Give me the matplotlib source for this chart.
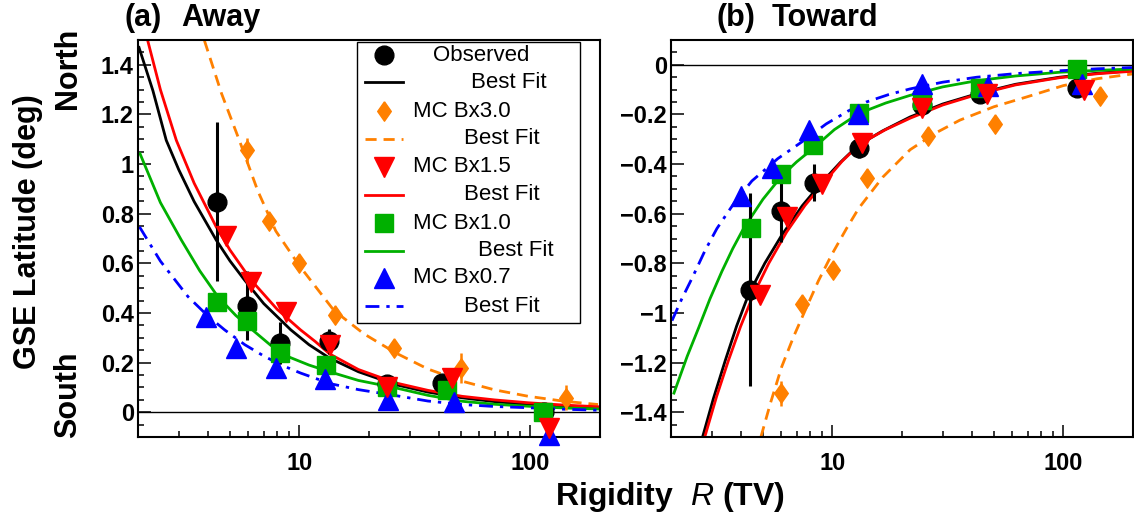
import numpy as np
import matplotlib.pyplot as plt
from matplotlib.ticker import FixedLocator, LogLocator, NullFormatter, FuncFormatter, MultipleLocator
from matplotlib.patches import Rectangle

plt.rcParams['font.family'] = ['Liberation Sans', 'DejaVu Sans']
plt.rcParams['mathtext.fontset'] = 'custom'
plt.rcParams['mathtext.it'] = 'Liberation Sans:italic'
plt.rcParams['mathtext.rm'] = 'Liberation Sans'

# ---- (a) Away ----
R_obs_a = [4.40, 5.93, 8.2, 13.4, 24.0, 41.5, 114]
lat_obs_a = [0.848, 0.429, 0.279, 0.285, 0.115, 0.118, 0.0]
err_obs_a = [0.32, 0.14, 0.085, 0.05, 0.02, 0.02, 0.02]

R_b30_a = [5.95, 7.37, 10.0, 14.2, 25.6, 50.2, 142.6]
lat_b30_a = [1.055, 0.771, 0.603, 0.393, 0.257, 0.178, 0.058]
err_b30_a = [0.05, 0.02, 0.02, 0.02, 0.02, 0.06, 0.05]

R_b15_a = [4.80, 6.19, 8.76, 13.6, 24.0, 45.8, 119.7]
lat_b15_a = [0.71, 0.526, 0.402, 0.27, 0.10, 0.138, -0.065]

R_b10_a = [4.40, 5.93, 8.2, 13.0, 24.0, 43.6, 113.8]
lat_b10_a = [0.446, 0.366, 0.239, 0.192, 0.10, 0.091, 0.0]

R_b07_a = [3.94, 5.30, 7.94, 12.9, 24.2, 46.6, 119.7]
lat_b07_a = [0.383, 0.259, 0.178, 0.134, 0.051, 0.04, -0.093]

# best fit curves
fitR_obs_a = [2.02, 2.32, 2.65, 3.0, 3.5, 4.36, 5.0, 5.78, 7.0, 9.17, 11, 13.5, 18, 26.1, 36, 50.6, 70, 98, 140, 196]
fit_obs_a = [1.47, 1.296, 1.096, 0.978, 0.849, 0.694, 0.61, 0.533, 0.438, 0.332, 0.272, 0.218, 0.163, 0.111,
             0.081, 0.058, 0.0426, 0.031, 0.0235, 0.018]
fitR_b30_a = [3.88, 4.6, 5.49, 6.6, 7.9, 10.0, 14.1, 19, 26.1, 36, 50.6, 70, 98, 140, 196]
fit_b30_a = [1.497, 1.284, 1.096, 0.892, 0.73, 0.59, 0.41, 0.316, 0.239, 0.174, 0.125, 0.09, 0.064, 0.044, 0.031]
fitR_b15_a = [2.2, 2.5, 2.93, 3.5, 4.36, 5.0, 6.17, 8.0, 10.1, 11.7, 13.5, 18, 26.1, 36, 50.6, 70, 98, 140, 196]
fit_b15_a = [1.50, 1.30, 1.096, 0.923, 0.747, 0.654, 0.533, 0.415, 0.332, 0.285, 0.235, 0.172, 0.118, 0.088,
             0.064, 0.0495, 0.038, 0.0287, 0.022]
fitR_b10_a = [2.04, 2.5, 3.08, 3.7, 4.43, 5.3, 6.38, 7.5, 8.87, 11, 13.5, 18, 26.1, 36, 50.6, 70, 98, 140, 196]
fit_b10_a = [1.042, 0.845, 0.694, 0.57, 0.466, 0.39, 0.325, 0.27, 0.225, 0.19, 0.163, 0.128, 0.098, 0.068,
             0.044, 0.032, 0.024, 0.017, 0.013]
fitR_b07_a = [2.03, 2.5, 3.29, 4.0, 4.74, 5.8, 7.05, 8.5, 10.1, 13.6, 18, 26.1, 36, 50.6, 70, 98, 140, 196]
fit_b07_a = [0.747, 0.609, 0.466, 0.389, 0.332, 0.272, 0.225, 0.187, 0.158, 0.115, 0.091, 0.067, 0.045, 0.031,
             0.023, 0.018, 0.012, 0.008]

# ---- (b) Toward ----
R_obs_t = [4.39, 5.97, 8.31, 12.98, 24.4, 43.4, 115]
lat_obs_t = [-0.906, -0.591, -0.475, -0.335, -0.16, -0.117, -0.093]
err_obs_t = [0.39, 0.125, 0.075, 0.04, 0.02, 0.02, 0.02]

R_b30_t = [5.97, 7.41, 10.1, 14.1, 26.0, 50.4, 143.8]
lat_b30_t = [-1.323, -0.965, -0.826, -0.455, -0.286, -0.239, -0.127]
err_b30_t = [0.05, 0.03, 0.02, 0.02, 0.02, 0.02, 0.02]

R_b15_t = [4.86, 6.38, 9.03, 13.4, 24.4, 46.9, 123.3]
lat_b15_t = [-0.926, -0.614, -0.481, -0.316, -0.176, -0.117, -0.103]

R_b10_t = [4.42, 5.97, 8.26, 12.98, 24.4, 43.4, 115]
lat_b10_t = [-0.658, -0.438, -0.322, -0.196, -0.143, -0.093, -0.017]

R_b07_t = [4.01, 5.50, 7.91, 12.85, 24.4, 47.2, 120]
lat_b07_t = [-0.528, -0.415, -0.263, -0.199, -0.077, -0.084, -0.077]

fitR_obs_t = [2.74, 3.05, 3.44, 3.85, 4.33, 5.1, 6.03, 7.4, 8.97, 10.8, 12.9, 16.5, 21.7, 30, 42.1, 62, 96, 140, 198]
fit_obs_t = [-1.5, -1.346, -1.19, -1.052, -0.926, -0.799, -0.687, -0.568, -0.475, -0.394, -0.325, -0.266,
             -0.210, -0.158, -0.117, -0.0785, -0.050, -0.034, -0.024]
fitR_b30_t = [4.9, 5.4, 6.03, 6.8, 7.6, 8.7, 9.9, 11.5, 13.0, 16.5, 21.7, 28, 35.6, 50, 69, 100, 140, 198]
fit_b30_t = [-1.5, -1.361, -1.217, -1.094, -0.992, -0.87, -0.767, -0.660, -0.578, -0.453, -0.342, -0.2745,
             -0.223, -0.169, -0.130, -0.0836, -0.056, -0.037]
fitR_b15_t = [2.8, 3.15, 3.55, 4.0, 4.55, 5.3, 6.33, 7.6, 9.27, 11, 13.2, 17, 21.7, 30, 42.1, 62, 96, 140, 198]
fit_b15_t = [-1.5, -1.337, -1.19, -1.055, -0.926, -0.80, -0.674, -0.567, -0.47, -0.389, -0.318, -0.261,
             -0.215, -0.162, -0.12, -0.081, -0.052, -0.036, -0.026]
fitR_b10_t = [2.06, 2.35, 2.64, 2.95, 3.32, 3.7, 4.12, 5.0, 6.03, 7.0, 8.12, 10.2, 13.0, 17, 21.7, 30, 42.1,
              62, 96, 140, 198]
fit_b10_t = [-1.323, -1.175, -1.058, -0.943, -0.833, -0.741, -0.660, -0.542, -0.448, -0.391, -0.342, -0.261,
             -0.196, -0.154, -0.123, -0.089, -0.064, -0.045, -0.030, -0.0223, -0.017]
fitR_b07_t = [2.02, 2.22, 2.47, 2.8, 3.16, 3.75, 4.48, 5.8, 7.6, 9.4, 11.7, 14.0, 17.5, 21.7, 30, 42.1, 62,
              96, 140, 198]
fit_b07_t = [-1.031, -0.946, -0.859, -0.751, -0.660, -0.5575, -0.468, -0.378, -0.302, -0.238, -0.186, -0.150,
             -0.12, -0.097, -0.070, -0.050, -0.0354, -0.024, -0.016, -0.011]

c_obs = 'black'
c_b30 = '#ff8000'
c_b15 = '#ff0000'
c_b10 = '#00b000'
c_b07 = '#0000ff'

diamond = [(0, 1), (0.7, 0), (0, -1), (-0.7, 0), (0, 1)]
dash_or = (0, (4, 2.5))
dash_bl = (0, (5, 2.5, 1.2, 2.5))
lw_fit = 2.0


def fmt_y(v, p):
    s = '%g' % round(v, 3)
    if s == '-0':
        s = '0'
    return s.replace('-', '\u2212')


def draw_panel(ax, d, ylim):
    ax.axhline(0, color='black', lw=1.0, zorder=1)
    ax.plot(d['fR_obs'], d['f_obs'], color=c_obs, lw=lw_fit, zorder=2)
    ax.plot(d['fR_b30'], d['f_b30'], color=c_b30, lw=lw_fit, ls=dash_or, zorder=2)
    ax.plot(d['fR_b15'], d['f_b15'], color=c_b15, lw=lw_fit, zorder=2)
    ax.plot(d['fR_b10'], d['f_b10'], color=c_b10, lw=lw_fit, zorder=2)
    ax.plot(d['fR_b07'], d['f_b07'], color=c_b07, lw=lw_fit, ls=dash_bl, zorder=2)

    ax.errorbar(d['R_obs'], d['obs'], yerr=d['e_obs'], fmt='o', color=c_obs, ms=13.5,
                elinewidth=2.2, capsize=0, zorder=3, clip_on=False)
    ax.errorbar(d['R_b30'], d['b30'], yerr=d['e_b30'], fmt='none', ecolor=c_b30,
                elinewidth=1.8, capsize=0, zorder=4)
    ax.plot(d['R_b30'], d['b30'], ls='none', marker=diamond, color=c_b30, ms=14,
            zorder=4, clip_on=False)
    ax.plot(d['R_b10'], d['b10'], ls='none', marker='s', color=c_b10, ms=13.5,
            zorder=5, clip_on=False)
    ax.plot(d['R_b07'], d['b07'], ls='none', marker='^', color=c_b07, ms=14,
            zorder=6, clip_on=False)
    ax.plot(d['R_b15'], d['b15'], ls='none', marker='v', color=c_b15, ms=14.5,
            zorder=7, clip_on=False)

    ax.set_xscale('log')
    ax.set_xlim(2, 200)
    ax.set_ylim(*ylim)
    ax.xaxis.set_major_locator(FixedLocator([10, 100]))
    ax.xaxis.set_minor_locator(LogLocator(base=10, subs=range(2, 10)))
    ax.xaxis.set_minor_formatter(NullFormatter())
    ax.xaxis.set_major_formatter(FuncFormatter(lambda v, p: '%g' % v))
    ax.yaxis.set_major_locator(MultipleLocator(0.2))
    ax.yaxis.set_minor_locator(MultipleLocator(0.05))
    ax.yaxis.set_major_formatter(FuncFormatter(fmt_y))
    ax.tick_params(which='both', direction='in', top=False, right=False, width=1.1,
                   labelsize=17)
    ax.tick_params(which='major', length=9)
    ax.tick_params(which='minor', length=4.5)
    ax.tick_params(axis='x', which='major', pad=11)
    ax.tick_params(axis='y', which='major', pad=3)
    for lab in ax.get_xticklabels() + ax.get_yticklabels():
        lab.set_fontweight('bold')
    for s in ax.spines.values():
        s.set_linewidth(1.5)


fig = plt.figure(figsize=(11.34, 5.23), dpi=100)
ax1 = fig.add_axes([0.1217, 0.1644, 0.4074, 0.7591])
ax2 = fig.add_axes([0.5917, 0.1644, 0.4074, 0.7591])

away = dict(R_obs=R_obs_a, obs=lat_obs_a, e_obs=err_obs_a,
            R_b30=R_b30_a, b30=lat_b30_a, e_b30=err_b30_a,
            R_b15=R_b15_a, b15=lat_b15_a, R_b10=R_b10_a, b10=lat_b10_a,
            R_b07=R_b07_a, b07=lat_b07_a,
            fR_obs=fitR_obs_a, f_obs=fit_obs_a, fR_b30=fitR_b30_a, f_b30=fit_b30_a,
            fR_b15=fitR_b15_a, f_b15=fit_b15_a, fR_b10=fitR_b10_a, f_b10=fit_b10_a,
            fR_b07=fitR_b07_a, f_b07=fit_b07_a)
toward = dict(R_obs=R_obs_t, obs=lat_obs_t, e_obs=err_obs_t,
              R_b30=R_b30_t, b30=lat_b30_t, e_b30=err_b30_t,
              R_b15=R_b15_t, b15=lat_b15_t, R_b10=R_b10_t, b10=lat_b10_t,
              R_b07=R_b07_t, b07=lat_b07_t,
              fR_obs=fitR_obs_t, f_obs=fit_obs_t, fR_b30=fitR_b30_t, f_b30=fit_b30_t,
              fR_b15=fitR_b15_t, f_b15=fit_b15_t, fR_b10=fitR_b10_t, f_b10=fit_b10_t,
              fR_b07=fitR_b07_t, f_b07=fit_b07_t)

draw_panel(ax1, away, (-0.1, 1.5))
draw_panel(ax2, toward, (-1.5, 0.1))

# legend box, laid out like the original
leg_labels = ['Observed', 'Best Fit', 'MC Bx3.0', 'Best Fit', 'MC Bx1.5', 'Best Fit',
              'MC Bx1.0', 'Best Fit', 'MC Bx0.7', 'Best Fit']
leg_y = [0.962, 0.893, 0.821, 0.751, 0.681, 0.610, 0.539, 0.469, 0.401, 0.329]
leg_tx = [0.639, 0.721, 0.595, 0.706, 0.595, 0.706, 0.595, 0.736, 0.595, 0.706]
ax1.add_patch(Rectangle((0.474, 0.287), 0.483, 0.708, transform=ax1.transAxes,
                        fc='white', ec='black', lw=1.0, zorder=10))
leg_sym = [('o', c_obs, 13.5), ('-', c_obs, None), (diamond, c_b30, 14), (dash_or, c_b30, None),
           ('v', c_b15, 14.5), ('-', c_b15, None), ('s', c_b10, 13.5), ('-', c_b10, None),
           ('^', c_b07, 14), (dash_bl, c_b07, None)]
for (m, col, ms), y, tx, lab in zip(leg_sym, leg_y, leg_tx, leg_labels):
    if ms is None:
        ax1.plot([0.491, 0.574], [y, y], transform=ax1.transAxes, color=col, lw=lw_fit,
                 ls=m, zorder=11, clip_on=False)
    else:
        ax1.plot([0.533], [y], transform=ax1.transAxes, ls='none', marker=m, color=col,
                 ms=ms, zorder=11, clip_on=False)
    ax1.text(tx, y, lab, transform=ax1.transAxes, fontsize=16, va='center', ha='left',
             zorder=12)

fig.text(125 / 1134, 1 - 18 / 523, '(a)', fontsize=22, fontweight='bold', va='center')
fig.text(181 / 1134, 1 - 18 / 523, 'Away', fontsize=22, fontweight='bold', va='center')
fig.text(716 / 1134, 1 - 18 / 523, '(b)', fontsize=22, fontweight='bold', va='center')
fig.text(772 / 1134, 1 - 18 / 523, 'Toward', fontsize=22, fontweight='bold', va='center')

fig.text(28 / 1134, 1 - 232 / 523, 'GSE Latitude (deg)', rotation=90, fontsize=22,
         fontweight='bold', ha='center', va='center')
fig.text(68 / 1134, 1 - 68 / 523, 'North', rotation=90, fontsize=22,
         fontweight='bold', ha='center', va='center')
fig.text(68 / 1134, 1 - 395 / 523, 'South', rotation=90, fontsize=22,
         fontweight='bold', ha='center', va='center')
fig.text(670 / 1134, 1 - 497 / 523, r'Rigidity  $R$ (TV)', fontsize=23,
         fontweight='bold', ha='center', va='center')

fig.savefig('out.png', dpi=100)
